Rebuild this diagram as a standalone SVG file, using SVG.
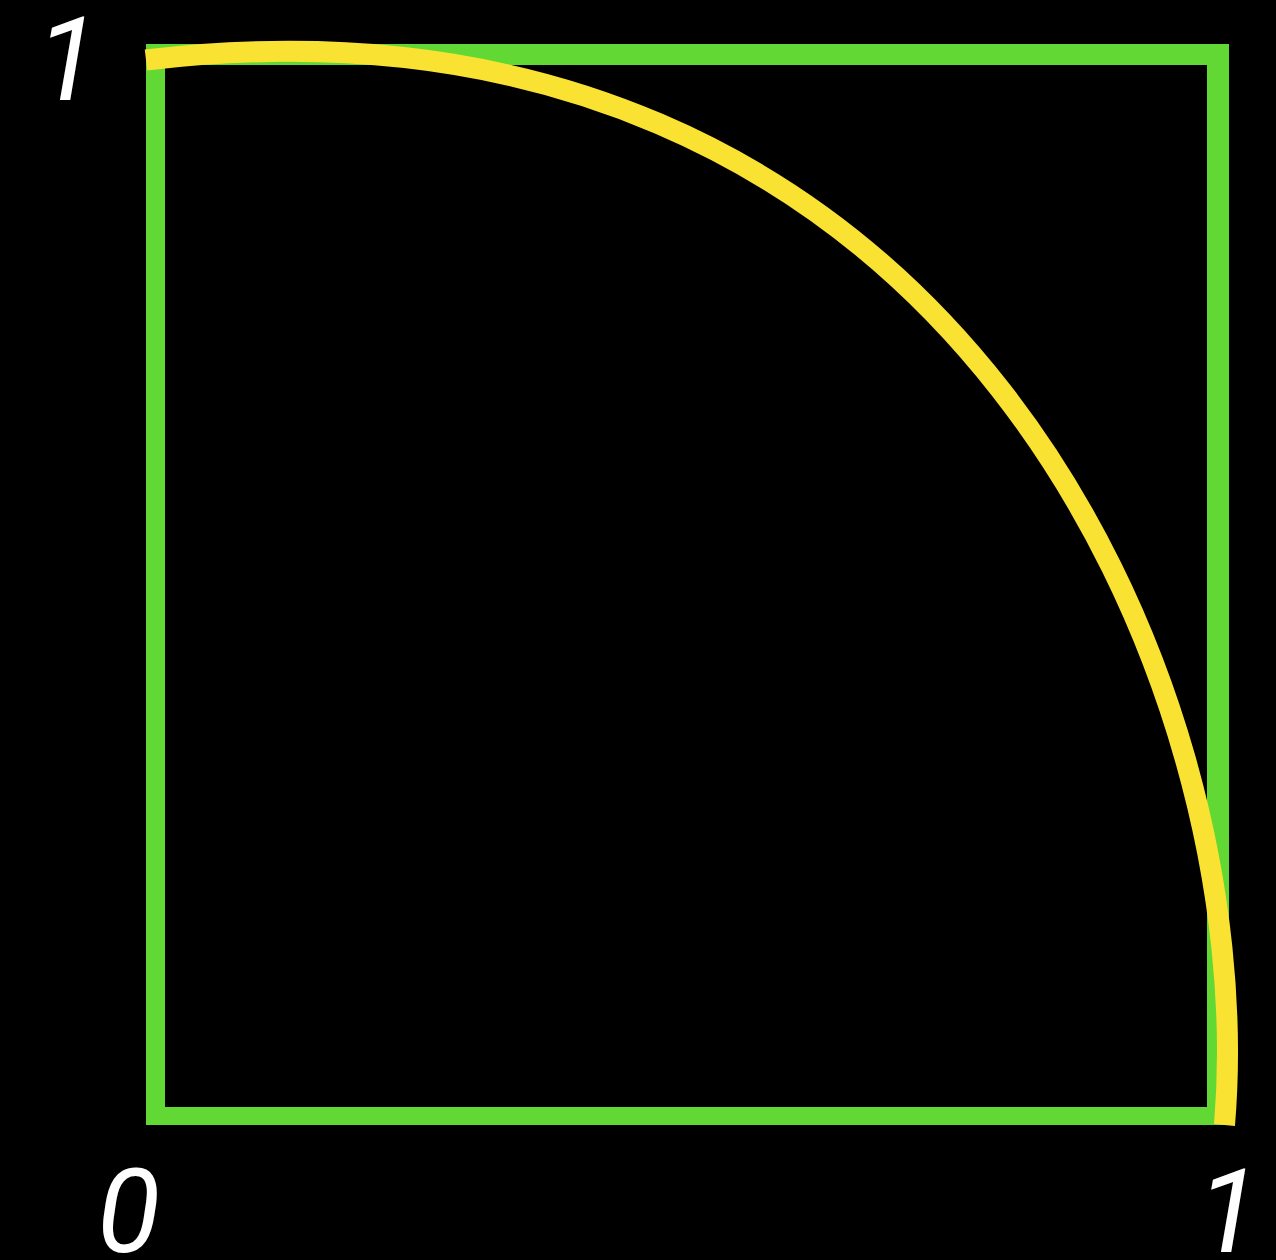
<svg xmlns="http://www.w3.org/2000/svg" width="1276" height="1260" viewBox="0 0 1276 1260">
<style>
.lbl{font-family:Roboto,"Liberation Sans",Arial,sans-serif;font-style:italic;font-size:116px;fill:#ffffff}
</style>
<rect x="0" y="0" width="1276" height="1260" fill="#000000"/>
<g id="box">
<path d="M146,44 H1229 V1125 H146 Z M165,65 V1107 H1207 V65 Z" fill="#62d834" fill-rule="evenodd"/>
</g>
<g id="curve">
<path d="M146,60 C950,-35 1262,680 1224.5,1125" fill="none" stroke="#fae232" stroke-width="21"/>
</g>
<g id="labels">
<text class="lbl" x="36" y="100">1</text>
<text class="lbl" x="97" y="1252">0</text>
<text class="lbl" x="1197" y="1252">1</text>
</g>
</svg>
